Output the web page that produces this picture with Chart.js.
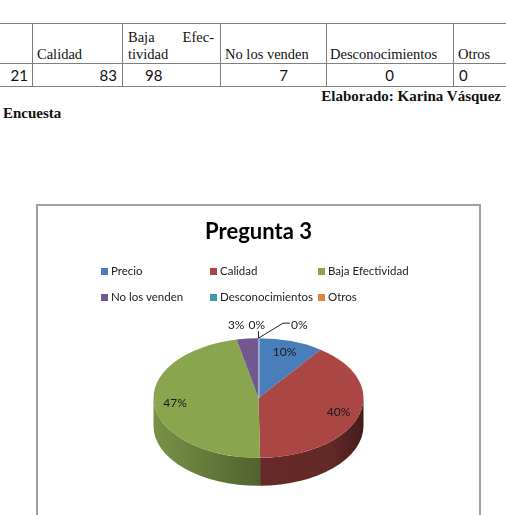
<!DOCTYPE html>
<html>
<head>
<meta charset="utf-8">
<script src="https://cdn.jsdelivr.net/npm/chart.js@4.4.0/dist/chart.umd.min.js"></script>
<style>
  body { margin: 0; width: 506px; height: 515px; overflow: hidden; position: relative; background: #fff; font-family: "Liberation Serif", "Times New Roman", serif; }
  .hl { position: absolute; left: 0; width: 506px; height: 0; border-top: 1.5px solid #7f7f7f; }
  .vl { position: absolute; top: 23px; width: 0; height: 63px; border-left: 1.5px solid #7f7f7f; }
  .hd { position: absolute; font-size: 14.5px; color: #111; line-height: 17px; }
  .val { position: absolute; top: 66px; font-family: Lato, sans-serif; font-size: 15px; color: #111; line-height: 18px; }
  .bold { position: absolute; font-weight: bold; font-size: 15px; color: #111; }
  #box { position: absolute; left: 36px; top: 204px; width: 441px; height: 320px; border: 2px solid #a0a0a0; }
  #c { position: absolute; left: 0; top: 0; }
  .lg { position: absolute; font-family: Lato, sans-serif; font-size: 11.5px; color: #222; white-space: nowrap; line-height: 14px; }
  .lg i { display: inline-block; width: 7px; height: 7px; margin-right: 3px; vertical-align: 0px; }
</style>
</head>
<body>
<div id="table"></div>
<div class="bold" style="right:5px; top:88px;">Elaborado: Karina Vásquez</div>
<div class="bold" style="left:3px; top:105px;">Encuesta</div>

<div id="box">
  <canvas id="c" width="441" height="309"></canvas>
</div>
<div id="legend"></div>

<script>
const categories = ['Precio', 'Calidad', 'Baja Efectividad', 'No los venden', 'Desconocimientos', 'Otros'];
const counts = [21, 83, 98, 7, 0, 0];
const colors = ['#4A7EBB', '#AA4643', '#89A54E', '#71588F', '#4198AF', '#DB843D'];
const chartTitle = 'Pregunta 3';

// ---- cropped table above the chart ----
const colEdges = [-40, 32, 122, 220, 326, 453];
(function buildTable() {
    const t = document.getElementById('table');
    let html = '<div class="hl" style="top:23px"></div><div class="hl" style="top:63px"></div><div class="hl" style="top:86px"></div>';
    colEdges.slice(1).forEach(x => { html += `<div class="vl" style="left:${x}px"></div>`; });
    // header row (first column header is cut off in the picture)
    html += `<div class="hd" style="left:37px; top:46px">${categories[1]}</div>`;
    html += `<div class="hd" style="left:128px; top:29px; width:86px; display:flex; justify-content:space-between"><span>Baja</span><span>Efec-</span></div>`;
    html += `<div class="hd" style="left:128px; top:46px">tividad</div>`;
    html += `<div class="hd" style="left:225px; top:46px">${categories[3]}</div>`;
    html += `<div class="hd" style="left:330px; top:46px">${categories[4]}</div>`;
    html += `<div class="hd" style="left:458px; top:46px">${categories[5]}</div>`;
    // values row
    html += `<div class="val" style="right:${506 - 28}px">${counts[0]}</div>`;
    html += `<div class="val" style="right:${506 - 117}px">${counts[1]}</div>`;
    html += `<div class="val" style="left:145px">${counts[2]}</div>`;
    html += `<div class="val" style="right:${506 - 288}px">${counts[3]}</div>`;
    html += `<div class="val" style="left:326px; width:127px; text-align:center">${counts[4]}</div>`;
    html += `<div class="val" style="left:459px">${counts[5]}</div>`;
    t.innerHTML = html;
})();

// ---- legend (3 columns x 2 rows) ----
(function buildLegend() {
    const lg = document.getElementById('legend');
    const colX = [101, 210, 318];
    const rowY = [264, 290];
    let html = '';
    categories.forEach((c, i) => {
        html += `<div class="lg" style="left:${colX[i % 3]}px; top:${rowY[Math.floor(i / 3)]}px"><i style="background:${colors[i]}"></i>${c}</div>`;
    });
    lg.innerHTML = html;
})();

// ---- 3D pie look ----
const TILT = 0.57;
const DEPTH = 28;

function shade(hex, f) {
    const n = parseInt(hex.slice(1), 16);
    const r = Math.round(((n >> 16) & 255) * f);
    const g = Math.round(((n >> 8) & 255) * f);
    const b = Math.round((n & 255) * f);
    return `rgb(${r},${g},${b})`;
}

const pie3d = {
    id: 'pie3d',
    beforeDatasetsDraw(chart) {
        const ctx = chart.ctx;
        const arcs = chart.getDatasetMeta(0).data;
        const bg = chart.data.datasets[0].backgroundColor;
        const cx = arcs[0].x, cy = arcs[0].y, r = arcs[0].outerRadius;

        // side walls, only the front half is visible
        arcs.forEach((a, i) => {
            const t1 = Math.max(a.startAngle, 0);
            const t2 = Math.min(a.endAngle, Math.PI);
            if (t2 <= t1) return;
            const g = ctx.createLinearGradient(cx - r, 0, cx + r, 0);
            g.addColorStop(0, shade(bg[i], 0.88));
            g.addColorStop(0.5, shade(bg[i], 0.6));
            g.addColorStop(0.85, shade(bg[i], 0.58));
            g.addColorStop(1, shade(bg[i], 0.4));
            ctx.beginPath();
            ctx.ellipse(cx, cy, r, r * TILT, 0, t1, t2);
            ctx.ellipse(cx, cy + DEPTH, r, r * TILT, 0, t2, t1, true);
            ctx.closePath();
            ctx.fillStyle = g;
            ctx.fill();
        });

        // squash the top face into an ellipse
        ctx.save();
        ctx.translate(cx, cy);
        ctx.scale(1, TILT);
        ctx.translate(-cx, -cy);
    },
    afterDatasetsDraw(chart) {
        const ctx = chart.ctx;
        ctx.restore();

        const arcs = chart.getDatasetMeta(0).data;
        const data = chart.data.datasets[0].data;
        const total = data.reduce((s, v) => s + v, 0);
        const cx = arcs[0].x, cy = arcs[0].y, r = arcs[0].outerRadius;

        ctx.save();
        ctx.font = '12px Lato, sans-serif';
        ctx.fillStyle = '#1a1a1a';
        ctx.textBaseline = 'middle';
        ctx.strokeStyle = '#222';
        ctx.lineWidth = 1;

        // thin light seam at 12 o'clock
        ctx.beginPath();
        ctx.moveTo(cx + 0.5, cy - TILT * r);
        ctx.lineTo(cx + 0.5, cy);
        ctx.strokeStyle = 'rgba(255,255,255,0.6)';
        ctx.stroke();
        ctx.strokeStyle = '#222';

        let prevRight = null;
        let outsideCount = 0;
        arcs.forEach((a, i) => {
            const pct = Math.round(data[i] / total * 100);
            const text = pct + '%';
            const mid = (a.startAngle + a.endAngle) / 2;
            if (pct >= 5) {
                ctx.textAlign = 'center';
                ctx.fillText(text, cx + 0.8 * r * Math.cos(mid), cy + TILT * 0.8 * r * Math.sin(mid));
                return;
            }
            // small slices: labels above the rim
            const ex = cx + r * Math.cos(mid);
            const ey = cy + TILT * r * Math.sin(mid);
            const w = ctx.measureText(text).width;
            const ly = cy - TILT * r - 13;
            let left;
            if (outsideCount === 0) {
                left = ex - 3 - w;
            } else {
                left = prevRight + (outsideCount === 1 ? 4 : 26);
            }
            ctx.textAlign = 'left';
            ctx.fillText(text, left, ly);
            if (outsideCount > 0) {
                ctx.beginPath();
                if (left > ex + 10) {
                    ctx.moveTo(ex, ey);
                    ctx.lineTo(left - 8, ly - 2);
                    ctx.lineTo(left - 1, ly - 2);
                } else {
                    ctx.moveTo(ex, ey);
                    ctx.lineTo(ex, ly + 6);
                }
                ctx.stroke();
            }
            prevRight = left + w;
            outsideCount++;
        });
        ctx.restore();
    }
};

new Chart(document.getElementById('c'), {
    type: 'pie',
    data: {
        labels: categories,
        datasets: [{
            data: counts,
            backgroundColor: colors,
            borderWidth: 0,
            radius: 105
        }]
    },
    options: {
        responsive: false,
        animation: false,
        layout: { padding: { bottom: 12 } },
        plugins: {
            legend: { display: false },
            tooltip: { enabled: false },
            title: {
                display: true,
                text: chartTitle,
                color: '#000',
                font: { family: 'Lato', size: 22, weight: 'bold' },
                padding: { top: 12.8, bottom: 47.8 }
            }
        }
    },
    plugins: [pie3d]
});
</script>
</body>
</html>
